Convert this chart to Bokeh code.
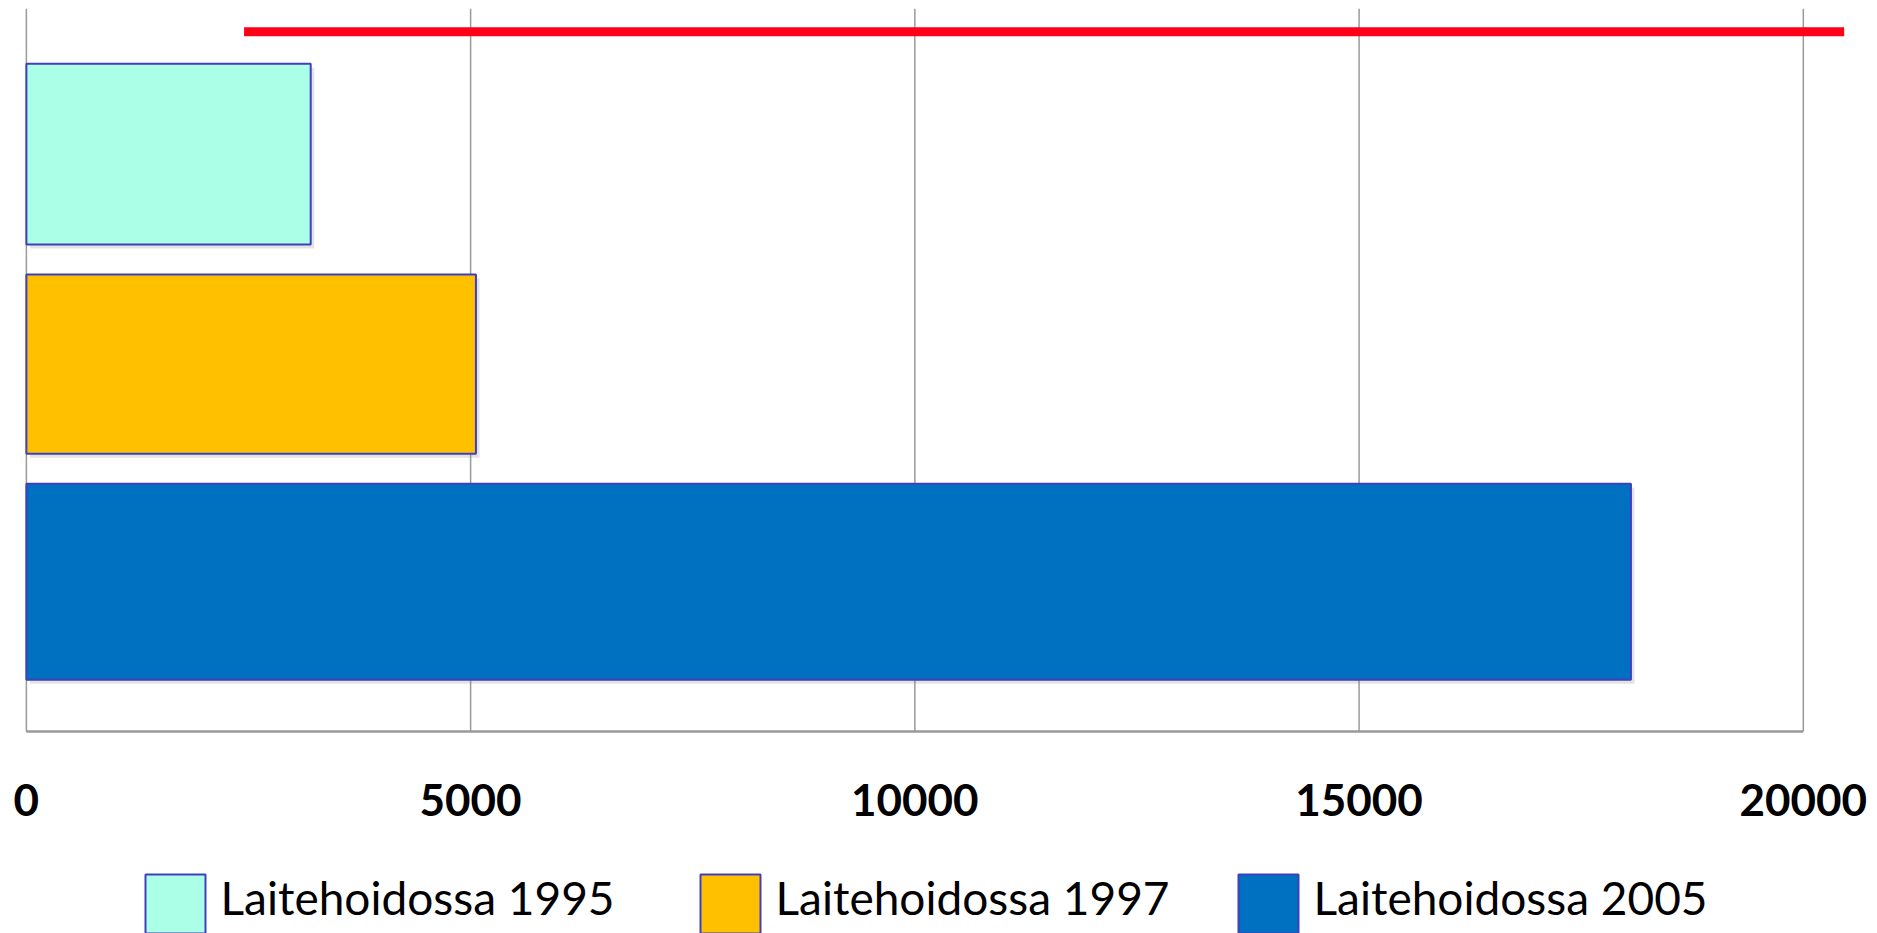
from bokeh.plotting import figure
from bokeh.models import Range1d, FixedTicker
from bokeh.layouts import column
from bokeh.core.properties import value
from bokeh.embed import file_html
from bokeh.resources import INLINE

# ---- data ----
series = ["Laitehoidossa  1995", "Laitehoidossa 1997", "Laitehoidossa 2005"]
values = [3200, 5060, 18060]
colors = ["#AAFFE6", "#FFC000", "#0070C0"]
x_ticks = [0, 5000, 10000, 15000, 20000]
tick_labels = ["0", "5000", "10000", "15000", "20000"]
red_line_start = 2450
red_line_end = 20460

# ---- layout (positions/heights in screen-like units) ----
bar_y = [577.4, 367.4, 149.7]
bar_h = [180.7, 179.3, 196.0]
red_y = 699.7
TOP = 723
FONT = "Lato"
OUTLINE = "#3F3FBF"
FRAME_W = 1848
BORDER_L = 17
BORDER_R = 4

p = figure(output_backend="svg", toolbar_location=None,
           frame_width=FRAME_W, frame_height=727,
           x_range=Range1d(-100, 20700), y_range=Range1d(-4, TOP),
           min_border_left=BORDER_L, min_border_right=BORDER_R, min_border_top=8,
           min_border_bottom=120)
p.outline_line_color = None
p.background_fill_color = "white"
p.border_fill_color = "white"
p.ygrid.visible = False
p.xgrid.visible = False
p.yaxis.visible = False

# grid lines drawn from tick positions
p.segment(x0=x_ticks, y0=[0] * len(x_ticks), x1=x_ticks, y1=[TOP] * len(x_ticks),
          line_color="#9a9a9a", line_width=1.5)
# axis base line (0 .. 20000)
p.segment(x0=[x_ticks[0]], y0=[0], x1=[x_ticks[-1]], y1=[0],
          line_color="#999999", line_width=2.5)

# red line
p.segment(x0=[red_line_start], y0=[red_y], x1=[red_line_end], y1=[red_y],
          line_color="#FF0018", line_width=9)

# shadows
sx = 40
p.hbar(y=[y - 4 for y in bar_y], right=[v + sx for v in values], left=sx,
       height=bar_h, fill_color="#7f7f7f", fill_alpha=0.22, line_color=None)

for i in range(3):
    p.hbar(y=[bar_y[i]], right=[values[i]], left=0, height=bar_h[i],
           fill_color=colors[i], line_color=OUTLINE, line_width=2)

ax = p.xaxis[0]
ax.ticker = FixedTicker(ticks=x_ticks)
ax.major_label_overrides = {t: l for t, l in zip(x_ticks, tick_labels)}
ax.axis_line_color = None
ax.major_tick_line_color = None
ax.minor_tick_line_color = None
ax.major_label_text_font = FONT
ax.major_label_text_font_style = "bold"
ax.major_label_text_font_size = "44px"
ax.major_label_text_color = "black"
ax.major_label_standoff = 42

# ---- legend strip (separate small figure under the chart, page-pixel units) ----
LEG_H = 78
sq_left = [145, 700, 1238]
sq_size = 60
label_gap = 15
label_baseline = 36

lg = figure(output_backend="svg", toolbar_location=None,
            frame_width=FRAME_W, frame_height=LEG_H,
            x_range=Range1d(BORDER_L, BORDER_L + FRAME_W), y_range=Range1d(0, LEG_H),
            x_axis_location=None, y_axis_location=None,
            min_border_left=BORDER_L, min_border_right=BORDER_R,
            min_border_top=0, min_border_bottom=0)
lg.outline_line_color = None
lg.grid.visible = False
lg.background_fill_color = "white"
lg.border_fill_color = "white"
lg.quad(left=sq_left, right=[x + sq_size for x in sq_left],
        bottom=[0] * 3, top=[LEG_H - 19] * 3,
        fill_color=colors, line_color=OUTLINE, line_width=2)
lg.text(x=[x + sq_size + label_gap for x in sq_left], y=[label_baseline] * 3,
        text=series, text_font=value(FONT), text_font_size="46px",
        text_color="black", text_baseline="alphabetic", text_align="left")

layout = column(p, lg, spacing=0)
open("out.html", "w").write(file_html(layout, INLINE))
